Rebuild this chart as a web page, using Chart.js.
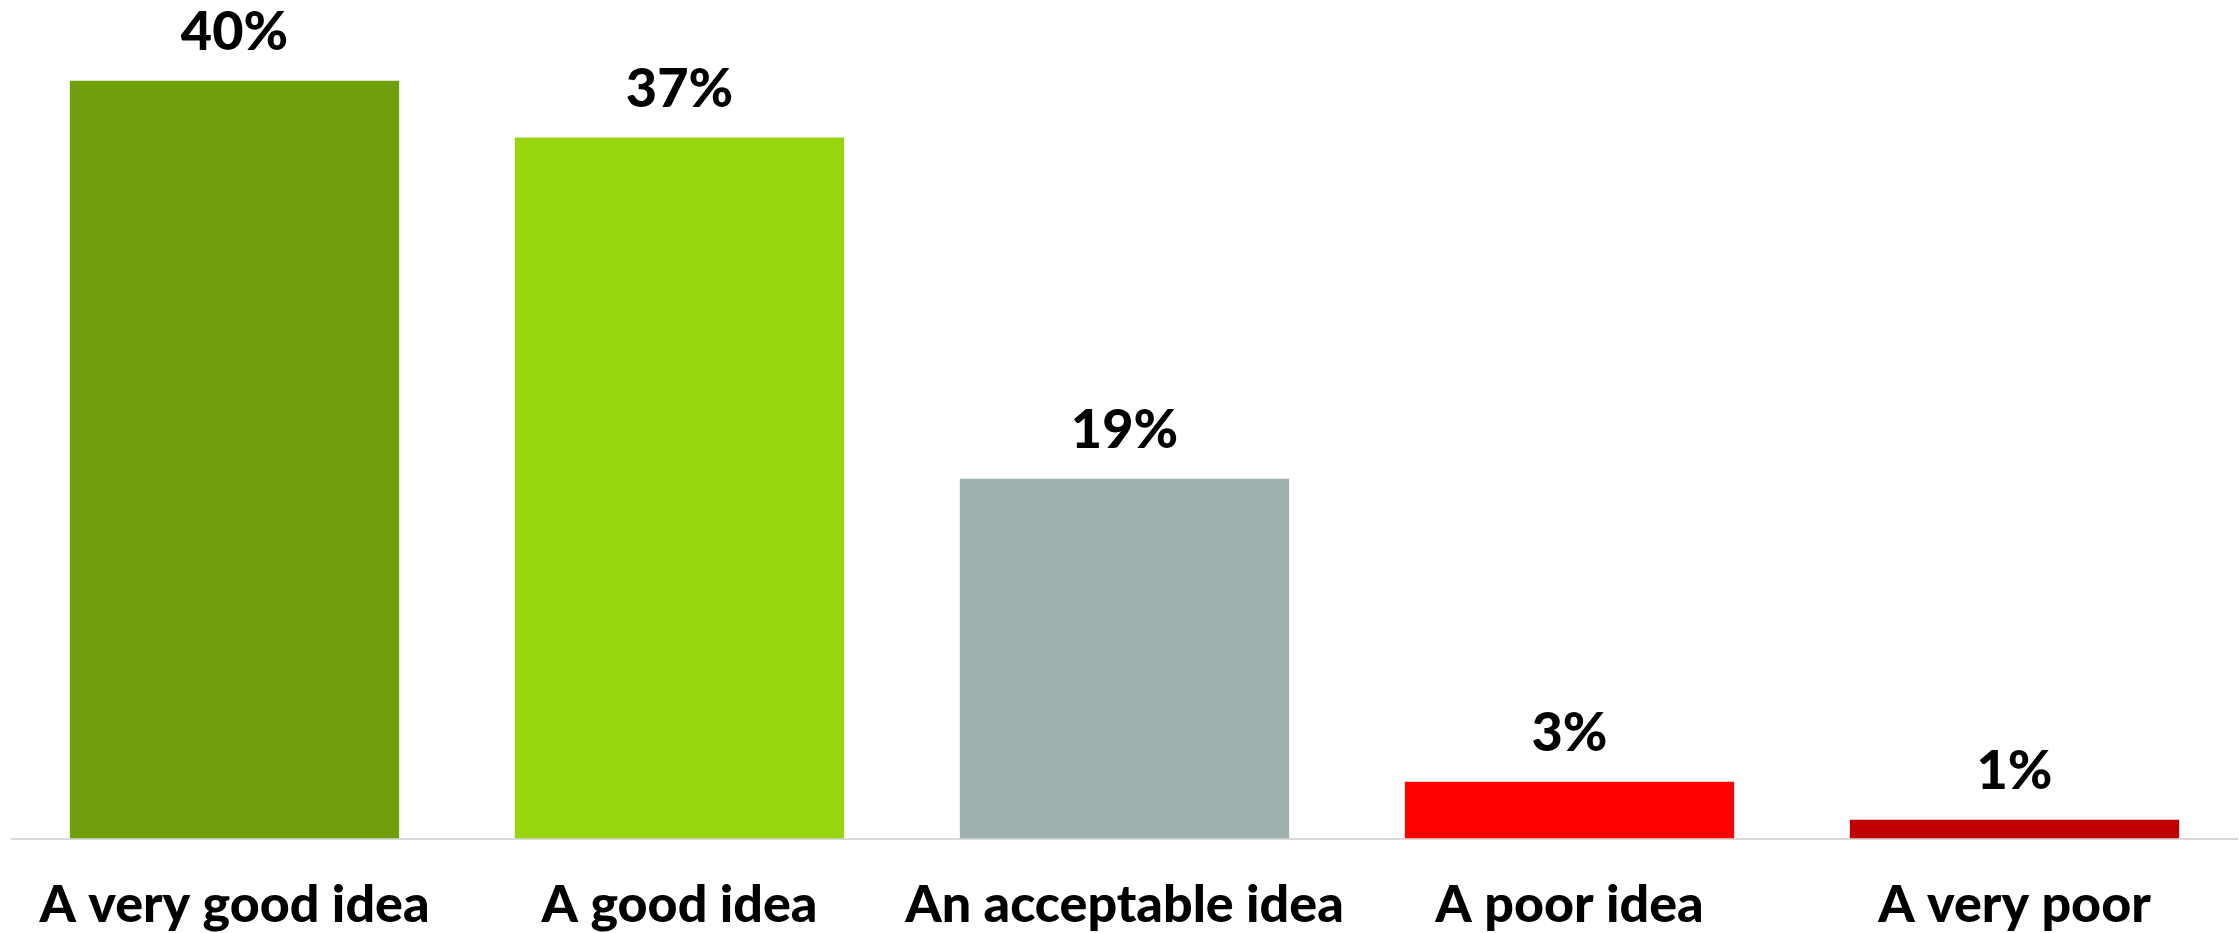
<!DOCTYPE html>
<html>
<head>
  <meta charset="utf-8" />
  <title>Opinion</title>
  <style>
    body { margin: 0; background: #fff; }
  </style>
</head>
<body>
  <canvas id="stage" width="2239" height="933"></canvas>

  <script src="https://cdn.jsdelivr.net/npm/chart.js@4.4.0/dist/chart.umd.min.js"></script>
  <script>
    // categories and values
    const labels = ['A very good idea', 'A good idea', 'An acceptable idea', 'A poor idea', 'A very poor'];
    const values = [40, 37, 19, 3, 1];
    const colors = ['#6fa00c', '#97d60c', '#9db0ae', '#ff0000', '#c00000'];

    // write "NN%" above each bar
    const valueLabels = {
      id: 'valueLabels',
      afterDatasetsDraw(chart) {
        const ctx = chart.ctx;
        const meta = chart.getDatasetMeta(0);
        ctx.save();
        ctx.font = '900 54px Lato';
        ctx.fillStyle = '#000';
        ctx.textAlign = 'center';
        ctx.textBaseline = 'middle';
        meta.data.forEach((bar, i) => {
          ctx.fillText(values[i] + '%', bar.x, bar.y - 48);
        });
        ctx.restore();
      }
    };

    new Chart(document.getElementById('stage'), {
      type: 'bar',
      data: {
        labels: labels,
        datasets: [{
          data: values,
          backgroundColor: colors,
          categoryPercentage: 0.74,
          barPercentage: 1.0,
        }]
      },
      options: {
        responsive: false,
        animation: false,
        layout: { padding: { top: 5, left: 12, right: 2, bottom: -30 } },
        plugins: {
          legend: { display: false },
          tooltip: { enabled: false },
        },
        scales: {
          y: {
            display: false,
            min: 0,
            max: 44,
          },
          x: {
            grid: { display: false },
            border: { display: true, color: '#d9d9d9', width: 2 },
            ticks: {
              color: '#000',
              padding: 27,
              font: { family: 'Lato', size: 52, weight: '900' },
            },
          },
        },
      },
      plugins: [valueLabels],
    });
  </script>
</body>
</html>
